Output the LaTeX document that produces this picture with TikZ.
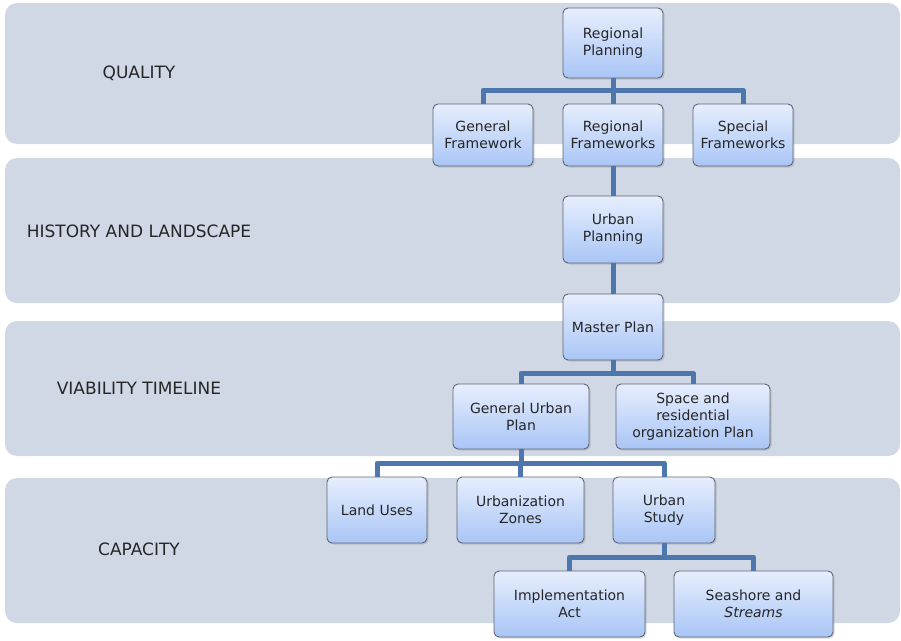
\documentclass[tikz,border=0pt]{standalone}
\usepackage{fontspec}
\setmainfont{DejaVu Sans}
\usepackage{tikz}
\usetikzlibrary{shadows}
\usetikzlibrary{calc}
\definecolor{bandgray}{HTML}{D0D8E6}
\definecolor{boxtop}{HTML}{E6EEFD}
\definecolor{boxbot}{HTML}{A9C5F6}
\definecolor{linkblue}{HTML}{4C76AC}
\definecolor{boxedge}{HTML}{5F6670}
\tikzstyle{band}=[fill=bandgray,rounded corners=12pt]
\tikzstyle{box}=[rectangle,rounded corners=5pt,draw=boxedge,line width=0.9pt,top color=boxtop,bottom color=boxbot,align=center,font=\fontsize{14}{17}\selectfont,text=black!85,inner sep=2pt,drop shadow={shadow xshift=1.5pt,shadow yshift=-1.5pt,opacity=0.3}]
\tikzstyle{link}=[draw=linkblue,line width=5pt,line join=round]
\tikzstyle{level}=[font=\fontsize{17}{20}\selectfont,text=black!85]

\begin{document}
\begin{tikzpicture}[x=1pt,y=-1pt]

  \useasboundingbox (0,0) rectangle (901,640);

  % bands
  \foreach \top/\bot in {3/144, 158/303, 321/456, 478/623}
     \path[band] (5,\top) rectangle (900,\bot);

  \foreach \y/\name/\label in {73/lq/QUALITY, 231/lh/HISTORY AND LANDSCAPE, 388/lv/VIABILITY TIMELINE, 549/lc/CAPACITY}
     \node[level] (\name) at (139,\y) {\label};

  % boxes
  \foreach \x/\y/\w/\h/\name/\label in {613/43/100/70/rp/{Regional\\Planning},
        483/135/100/62/gf/{General\\Framework}, 613/135/100/62/rf/{Regional\\Frameworks}, 743/135/100/62/sf/{Special\\Frameworks},
        613/229.5/100/67/up/{Urban\\Planning}, 613/327/100/66/mp/{Master Plan},
        521/416.5/136/65/gup/{General Urban\\Plan}, 693/416.5/154/65/srp/{Space and\\residential\\organization Plan},
        377/510/100/66/lu/{Land Uses}, 520.5/510/127/66/uz/{Urbanization\\Zones}, 664/510/102/66/us/{Urban\\Study},
        569.5/604/151/66/ia/{Implementation\\Act}, 753.5/604/159/66/ss/{Seashore and\\\textit{Streams}}}
     \node[box,minimum width=\w pt,minimum height=\h pt] (\name) at (\x,\y) {\label};

  % connectors
  \coordinate (busA) at (0,90);
  \coordinate (busB) at (0,373);
  \coordinate (busC) at (0,463);
  \coordinate (busD) at (0,557);

  \foreach \dest in {gf, rf, sf}
     \draw[link] (rp.south) |- (busA -| \dest) -- (\dest.north);
  \draw[link] (rf.south) -- (up.north);
  \draw[link] (up.south) -- (mp.north);
  \foreach \dest in {gup, srp}
     \draw[link] (mp.south) |- (busB -| \dest) -- (\dest.north);
  \foreach \dest in {lu, uz, us}
     \draw[link] (gup.south) |- (busC -| \dest) -- (\dest.north);
  \foreach \dest in {ia, ss}
     \draw[link] (us.south) |- (busD -| \dest) -- (\dest.north);

\end{tikzpicture}
\end{document}
